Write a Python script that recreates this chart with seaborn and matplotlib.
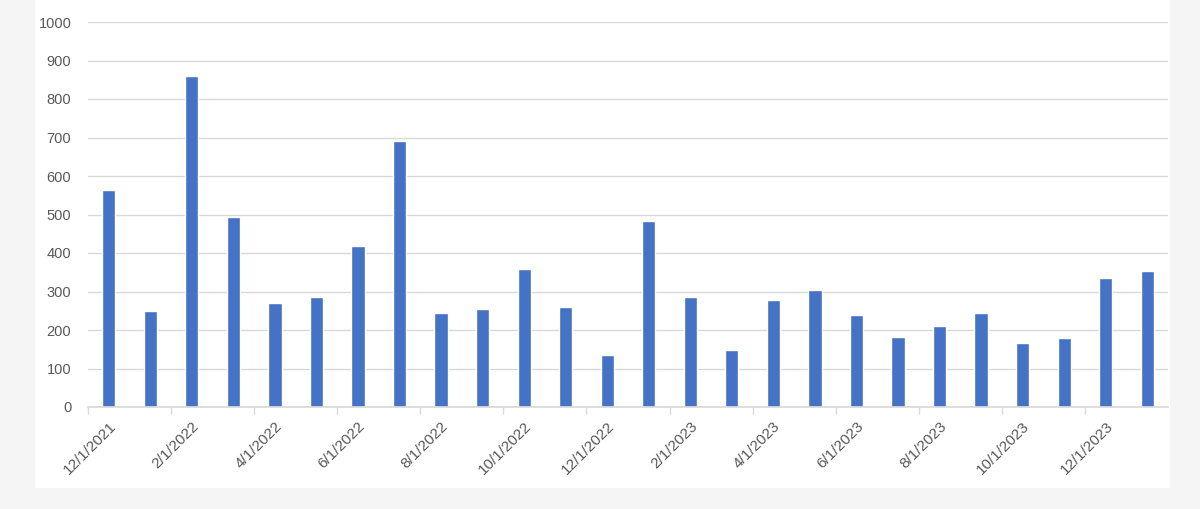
import matplotlib
matplotlib.use("Agg")
import matplotlib.pyplot as plt
from matplotlib.patches import Rectangle
import seaborn as sns

# monthly values, 12/1/2021 .. 1/1/2024
months = ["12/1/2021", "1/1/2022", "2/1/2022", "3/1/2022", "4/1/2022", "5/1/2022",
          "6/1/2022", "7/1/2022", "8/1/2022", "9/1/2022", "10/1/2022", "11/1/2022",
          "12/1/2022", "1/1/2023", "2/1/2023", "3/1/2023", "4/1/2023", "5/1/2023",
          "6/1/2023", "7/1/2023", "8/1/2023", "9/1/2023", "10/1/2023", "11/1/2023",
          "12/1/2023", "1/1/2024"]
counts = [564, 250, 861, 493, 270, 285, 419, 690, 243, 255, 359, 259,
          135, 483, 285, 147, 278, 304, 240, 183, 210, 244, 166, 180,
          334, 352]
y_ticks = [0, 100, 200, 300, 400, 500, 600, 700, 800, 900, 1000]

sns.set_theme(style="white")
plt.rcParams["font.family"] = ["Liberation Sans", "DejaVu Sans"]

fig = plt.figure(figsize=(12, 5.09), dpi=100, facecolor="#f5f5f5")
# white chart panel behind the axes
fig.patches.append(Rectangle((35 / 1200, 21 / 509), 1135 / 1200, 488 / 509,
                             transform=fig.transFigure, facecolor="white",
                             edgecolor="none", zorder=-10))

ax = fig.add_axes([88 / 1200, 1 - 407 / 509, 1080 / 1200, 385 / 509])
ax.set_facecolor("none")

sns.barplot(x=list(range(len(months))), y=counts, color="#4472C4",
            saturation=1, width=0.32, ax=ax)

ax.set_xlim(-0.5, len(months) - 0.5)
ax.set_ylim(0, 1000)
ax.set_yticks(y_ticks)
ax.set_yticklabels([str(v) for v in y_ticks], color="#595959", fontsize=10.5)
ax.yaxis.grid(True, color="#d9d9d9", linewidth=1)
ax.set_axisbelow(True)

major = list(range(0, len(months), 2))
ax.set_xticks(major)
ax.set_xticklabels([months[i] for i in major], rotation=45, ha="right",
                   rotation_mode="anchor", color="#595959", fontsize=11)
ax.set_xticks([i - 0.5 for i in major], minor=True)
ax.tick_params(axis="x", which="major", length=0, pad=9)
ax.tick_params(axis="x", which="minor", bottom=True, length=5,
               color="#d9d9d9", width=1)
ax.tick_params(axis="y", length=0, pad=12)

for s in ["top", "right", "left"]:
    ax.spines[s].set_visible(False)
ax.spines["bottom"].set_color("#d9d9d9")
ax.set_xlabel("")
ax.set_ylabel("")

fig.savefig("out.png", dpi=100, facecolor=fig.get_facecolor())
